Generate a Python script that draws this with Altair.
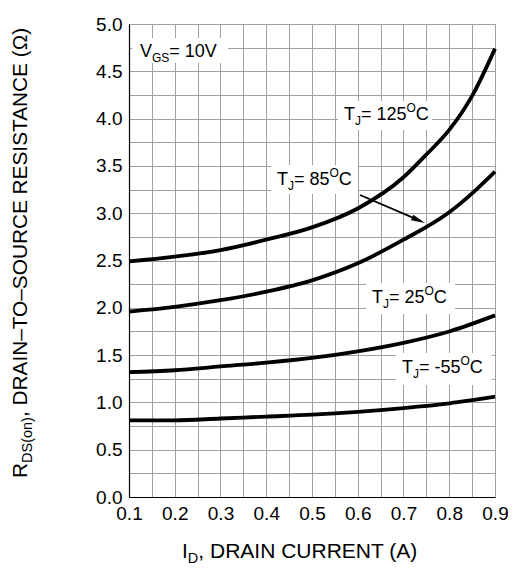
import altair as alt
import pandas as pd

# ---------------- data ----------------
x_125 = [0.1, 0.2, 0.3, 0.4, 0.5, 0.6, 0.7, 0.75, 0.8, 0.85, 0.9]
r_125 = [2.49, 2.54, 2.61, 2.72, 2.85, 3.05, 3.38, 3.62, 3.88, 4.24, 4.74]
x_85 = [0.1, 0.2, 0.3, 0.4, 0.5, 0.6, 0.7, 0.8, 0.85, 0.9]
r_85 = [1.96, 2.01, 2.08, 2.17, 2.29, 2.47, 2.72, 3.01, 3.21, 3.44]
x_25 = [0.1, 0.2, 0.3, 0.4, 0.5, 0.6, 0.7, 0.8, 0.9]
r_25 = [1.32, 1.34, 1.38, 1.42, 1.47, 1.54, 1.63, 1.75, 1.92]
x_m55 = [0.1, 0.2, 0.3, 0.4, 0.5, 0.6, 0.7, 0.8, 0.9]
r_m55 = [0.81, 0.81, 0.83, 0.85, 0.87, 0.90, 0.94, 0.99, 1.06]

x_grid = [round(0.1 + 0.05 * i, 2) for i in range(17)]
y_grid = [round(0.25 * i, 2) for i in range(21)]

# annotation anchors (data units): label baseline start, background boxes, arrow
labels = [
    # pieces: (text, size, dy)
    ([("V", 18, 0), ("GS", 12, 5), ("= 10V", 18, 0)], 0.1240, 4.651),
    ([("T", 18, 0), ("J", 12, 5), ("= 125", 18, 0), ("O", 12, -8), ("C", 18, 0)], 0.5699, 3.985),
    ([("T", 18, 0), ("J", 12, 5), ("= 85", 18, 0), ("O", 12, -8), ("C", 18, 0)], 0.4235, 3.298),
    ([("T", 18, 0), ("J", 12, 5), ("= 25", 18, 0), ("O", 12, -8), ("C", 18, 0)], 0.6311, 2.051),
    ([("T", 18, 0), ("J", 12, 5), ("= -55", 18, 0), ("O", 12, -8), ("C", 18, 0)], 0.6967, 1.311),
]
box_x1 = [0.1066, 0.5568, 0.4104, 0.6180, 0.6836]
box_x2 = [0.3164, 0.7623, 0.6005, 0.8126, 0.8934]
box_y1 = [4.588, 3.879, 3.203, 1.934, 1.184]
box_y2 = [4.852, 4.186, 3.510, 2.262, 1.522]
arrow_x = [0.6049, 0.7330]
arrow_y = [3.192, 2.926]

FONT = "Liberation Sans"
W = {'T': 611, 'J': 500, '=': 584, ' ': 278, 'O': 778, 'C': 722, 'V': 667, 'G': 778,
     'S': 667, '-': 333, 'R': 722, 'D': 722, '(': 333, ')': 333, 'o': 556, 'n': 556,
     ',': 278, 'I': 278, 'A': 667, 'N': 722, 'U': 722, 'E': 667, '–': 556, 'Ω': 768}
for d in "0123456789":
    W[d] = 556


def width(s, size):
    return sum(W.get(c, 600) for c in s) * size / 1000.0


xs = alt.Scale(domain=[0.1, 0.9], nice=False, zero=False)
ys = alt.Scale(domain=[0, 5], nice=False)

AX = dict(grid=True, ticks=False, gridColor="#a0a0a0", gridWidth=1, gridOpacity=1,
          domainColor="black", domainWidth=1.2, labelFontSize=19, labelFont=FONT,
          labelColor="black", labelPadding=7, labelFlush=False, title="")
x_axis = alt.Axis(values=x_grid, **AX,
                  labelExpr="abs(datum.value*10 - round(datum.value*10)) < 0.001 ? format(datum.value, '.1f') : ''")
y_axis = alt.Axis(values=y_grid, **AX,
                  labelExpr="abs(datum.value*2 - round(datum.value*2)) < 0.001 ? format(datum.value, '.1f') : ''")


def X(field):
    return alt.X(field, scale=xs, axis=x_axis)


def Y(field):
    return alt.Y(field, scale=ys, axis=y_axis)


rows = []
for name, xx, yy in [("125", x_125, r_125), ("85", x_85, r_85),
                     ("25", x_25, r_25), ("-55", x_m55, r_m55)]:
    for a, b in zip(xx, yy):
        rows.append({"series": name, "id": a, "r": b})
df = pd.DataFrame(rows)

curves = alt.Chart(df).mark_line(color="black", strokeWidth=3.8, interpolate="monotone").encode(
    x=X("id:Q"), y=Y("r:Q"), detail="series:N")

boxes = alt.Chart(pd.DataFrame({"x1": box_x1, "x2": box_x2, "y1": box_y1, "y2": box_y2})).mark_rect(
    fill="white").encode(x=X("x1:Q"), x2="x2:Q", y=Y("y1:Q"), y2="y2:Q")

arrow_line = alt.Chart(pd.DataFrame({"x": [arrow_x[0]], "y": [arrow_y[0]],
                                     "x2": [arrow_x[1]], "y2": [arrow_y[1]]})).mark_rule(
    color="black", strokeWidth=1.8).encode(x=X("x:Q"), y=Y("y:Q"), x2="x2:Q", y2="y2:Q")
arrow_head = alt.Chart(pd.DataFrame({"x": [arrow_x[1]], "y": [arrow_y[1]]})).mark_point(
    shape="M1,0 L-1,-0.42 L-1,0.42 Z", filled=True, color="black", opacity=1, size=200,
    angle=23.3).encode(x=X("x:Q"), y=Y("y:Q"))

layers = [curves, boxes, arrow_line, arrow_head]

# in-plot labels with sub/superscripts
for pieces, ax, ay in labels:
    dx = 0.0
    for t, size, dy in pieces:
        layers.append(alt.Chart(pd.DataFrame({"x": [ax], "y": [ay]})).mark_text(
            text=t, fontSize=size, font=FONT, color="black", align="left",
            baseline="alphabetic", dx=dx, dy=dy).encode(x=X("x:Q"), y=Y("y:Q")))
        dx += width(t, size)


def pixel_run(pieces, px, py, angle=0):
    out = []
    dx = 0.0
    for t, size, dy in pieces:
        kw = dict(text=t, fontSize=size, font=FONT, color="black", align="left",
                  baseline="alphabetic", dx=dx, dy=dy)
        if angle:
            kw["angle"] = angle
        out.append(alt.Chart(pd.DataFrame({"k": [0]})).mark_text(**kw).encode(
            x=alt.value(px), y=alt.value(py)))
        dx += width(t, size)
    return out


layers += pixel_run([("I", 21, 0), ("D", 14.5, 5), (", DRAIN CURRENT (A)", 21, 0)], 53, 534)
layers += pixel_run([("R", 20.8, 0), ("DS(on)", 14.5, 5), (", DRAIN–TO–SOURCE RESISTANCE (Ω)", 20.8, 0)],
                    -102, 454, angle=270)

chart = alt.layer(*layers).properties(
    width=366, height=473,
    padding={"left": 121, "top": 16, "right": 13, "bottom": 70},
    autosize=alt.AutoSizeParams(type="none"),
).configure_view(stroke="#a0a0a0", strokeWidth=1).configure_axis(
    grid=True, gridColor="#a0a0a0", gridOpacity=1)

chart.save("out.html", embed_options={"renderer": "svg", "actions": False})
